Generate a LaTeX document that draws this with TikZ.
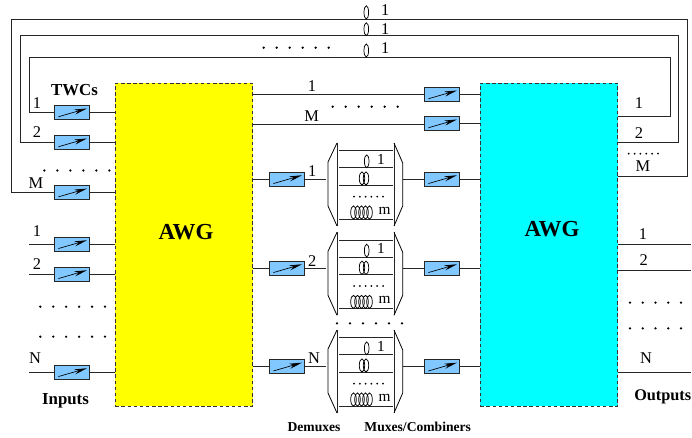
\documentclass[tikz,border=0pt]{standalone}
\usepackage{fontspec}
\setmainfont{Liberation Serif}
\usetikzlibrary{arrows.meta,calc}
\definecolor{convblue}{HTML}{80C8FF}
\definecolor{awgyellow}{HTML}{FFFF00}
\definecolor{awgcyan}{HTML}{00FFFF}
\tikzset{
  conv/.style={draw=black!85,line width=0.8pt,fill=convblue,minimum width=26.25pt,minimum height=10.5pt,inner sep=0pt,outer sep=0pt},
  convarrow/.style={line width=0.5pt,-{Stealth[length=9.5pt,width=3.8pt]}},
  awg/.style={draw=black!80,line width=0.7pt,dash pattern=on 2.6pt off 2pt,minimum width=103pt,minimum height=242.5pt,inner sep=0pt,outer sep=0pt},
  wire/.style={line width=0.7pt,draw=black!85},
  lbl/.style={font=\fontsize{12.3}{14}\selectfont,inner sep=0pt},
  smalllbl/.style={font=\fontsize{11.5}{14}\selectfont,inner sep=0pt},
  boldlbl/.style={font=\fontsize{12.6}{14}\selectfont\bfseries,inner sep=0pt},
  tinybold/.style={font=\fontsize{10.2}{12}\selectfont\bfseries,inner sep=0pt},
  awgtext/.style={font=\fontsize{17.2}{18}\selectfont\bfseries,inner sep=0pt},
  coil/.style={draw=black,line width=0.55pt,fill=none},
}
\newcommand{\convbox}[3]{%
  \node[conv] (#1) at (#2,#3) {};
  \draw[convarrow] ($(#1.center)+(-10.2pt,-3.2pt)$) -- ($(#1.center)+(11.2pt,3pt)$);
}
\newcommand{\bigdots}[4]{% x0 x1 y n
  \foreach \i in {1,...,#4}{\fill ({#1+(#2-#1)*(\i-1)/(#4-1)},#3) circle (0.95pt);}
}
\newcommand{\smalldots}[4]{%
  \foreach \i in {1,...,#4}{\fill ({#1+(#2-#1)*(\i-1)/(#4-1)},#3) circle (0.75pt);}
}
\newcommand{\demux}[2]{% offset, name
  \begin{scope}[yshift={-0.75pt*#1}]
    \node[inner sep=0pt,minimum size=0pt] (dl#2) at (326,184.5) {};
    \node[inner sep=0pt,minimum size=0pt] (dr#2) at (402.7,184.5) {};
    \draw[wire] (337,143) -- (337,226);
    \draw[wire] (394,143) -- (394,226);
    \draw[line width=0.6pt] (337,143) -- (328,162) -- (328,206) -- (337,226);
    \draw[line width=0.6pt] (394,143) -- (402.7,163) -- (402.7,206) -- (394,226);
    \foreach \yy in {150.7,167.7,185,219}{\draw[wire] (339,\yy) -- (393,\yy);}
    \draw[coil] (366.7,161.3) ellipse (2.3 and 6.4);
    \foreach \xx in {362,366}{\draw[coil] (\xx,178.4) ellipse (2.7 and 6.6);}
    \foreach \xx in {353.5,357.5,361.5,365.5,369.5}{\draw[coil] (\xx,212.5) ellipse (2.8 and 6.5);}
    \node[smalllbl] at (381,159) {1};
    \node[smalllbl] at (384.5,210.5) {m};
    \smalldots{354}{383}{196.7}{6}
  \end{scope}
}
\begin{document}
\begin{tikzpicture}[x=0.75pt,y=-0.75pt]
\useasboundingbox (0,0) rectangle (692,438);
\fill[white] (0,0) rectangle (692,438);

\node[awg,fill=awgyellow] (awgL) at (184,244.7) {};
\node[awg,fill=awgcyan] (awgR) at (549,244.7) {};
\node[awgtext] at (186,232) {AWG};
\node[awgtext] at (552,229) {AWG};

% left converters
\convbox{t1}{72}{112.5}
\convbox{t2}{72}{142.5}
\convbox{tm}{72}{192.6}
\convbox{i1}{72}{244.3}
\convbox{i2}{72}{274.3}
\convbox{iN}{72}{372.3}
% top converters
\convbox{u1}{442}{94.5}
\convbox{um}{442}{123.5}
% middle converters
\convbox{ma}{287}{179.3}
\convbox{mb}{287}{268.3}
\convbox{mc}{287}{366.7}
\convbox{na}{442}{179.3}
\convbox{nb}{442}{268.3}
\convbox{nc}{442}{366.7}

% feedback loops
\coordinate (r1) at (618,116.5);
\coordinate (r2) at (618,142);
\coordinate (r3) at (618,176);
\draw[wire] (t1.west) -- (29,112.5) |- (670,57) |- (r1);
\draw[wire] (t2.west) -- (20,142.5) |- (678,35.5) |- (r2);
\draw[wire] (tm.west) -- (11.5,192.6) |- (687,19) |- (r3);

% converter to AWG
\foreach \n in {t1,t2,tm,i1,i2,iN}{\draw[wire] (\n.east) -- (\n -| awgL.west);}
% inputs
\coordinate (in1) at (29,244.3);
\coordinate (in2) at (29,274.3);
\coordinate (in3) at (29,372.3);
\draw[wire] (in1) -- (i1.west);
\draw[wire] (in2) -- (i2.west);
\draw[wire] (in3) -- (iN.west);
% top links
\draw[wire] (awgL.east |- u1) -- (u1.west);
\draw[wire] (u1.east) -- (u1 -| awgR.west);
\draw[wire] (awgL.east |- um) ++(0,1) -- ($(um.west)+(0,-0.75pt)$);
\draw[wire] (um.east) -- (um -| awgR.west);

% demuxes
\demux{0}{a}
\demux{89.3}{b}
\demux{187}{c}
\foreach \n/\m/\d in {ma/na/a,mb/nb/b,mc/nc/c}{
  \draw[wire] (awgL.east |- \n) -- (\n.west);
  \draw[wire] (\n.east) -- (\n -| dl\d);
  \draw[wire] (\n -| dr\d) -- (\m.west);
  \draw[wire] (\m.east) -- (\m -| awgR.west);
}

% outputs
\coordinate (o1) at (691,244);
\coordinate (o2) at (691,270);
\coordinate (o3) at (691,372);
\draw[wire] (awgR.east |- o1) -- (o1);
\draw[wire] (awgR.east |- o2) -- (o2);
\draw[wire] (awgR.east |- o3) -- (o3);

% loop coils
\draw[coil] (366.3,12.4) ellipse (2.3 and 6.6);
\draw[coil] (366.3,29.2) ellipse (2.3 and 6.4);
\draw[coil] (366.3,50.5) ellipse (2.3 and 6.5);

% dots
\bigdots{44.3}{109.3}{170.5}{6}
\bigdots{40.3}{105}{306.7}{6}
\bigdots{40.3}{105}{336.7}{6}
\bigdots{630}{681}{302.7}{5}
\bigdots{630}{681}{328.3}{5}
\bigdots{263.7}{328.7}{47.7}{6}
\bigdots{332.7}{397.7}{106.7}{6}
\bigdots{337}{402}{323.3}{6}
\smalldots{628.7}{658}{153.7}{6}

% labels
\node[boldlbl] at (74.5,90) {TWCs};
\node[lbl] at (37,103) {1};
\node[lbl] at (37,132.5) {2};
\node[lbl] at (36,183) {M};
\node[lbl] at (37,230.7) {1};
\node[lbl] at (37,264) {2};
\node[lbl] at (35,358) {N};
\node[boldlbl] at (65.5,401) {Inputs};
\node[lbl] at (385.3,10) {1};
\node[lbl] at (385.3,29) {1};
\node[lbl] at (385.3,47.7) {1};
\node[lbl] at (312,85.7) {1};
\node[lbl] at (311.7,115.7) {M};
\node[lbl] at (312.3,170.7) {1};
\node[lbl] at (312.3,260.7) {2};
\node[lbl] at (314,358) {N};
\node[lbl] at (639,103) {1};
\node[lbl] at (639,133) {2};
\node[lbl] at (643,166) {M};
\node[lbl] at (643,234) {1};
\node[lbl] at (643.7,260) {2};
\node[lbl] at (646,358.5) {N};
\node[font=\fontsize{12.2}{14}\selectfont\bfseries,inner sep=0pt,anchor=east] at (691.5,396.5) {Outputs};
\node[tinybold] at (314,427) {Demuxes};
\node[tinybold] at (417.7,427) {Muxes/Combiners};
\end{tikzpicture}
\end{document}
